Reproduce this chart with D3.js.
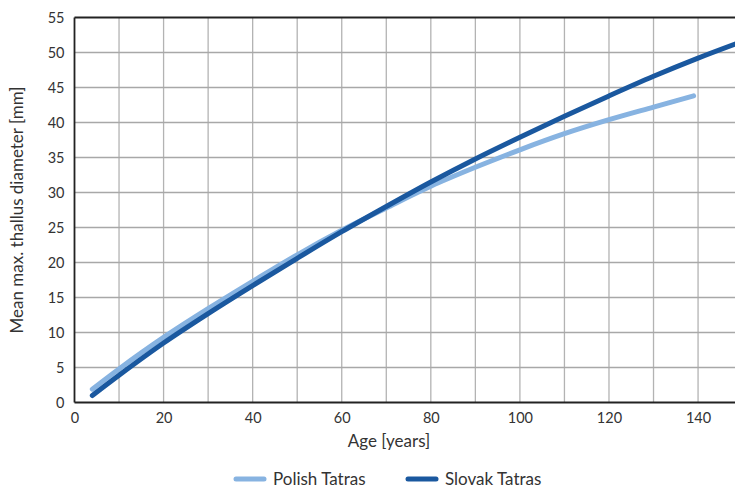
<!DOCTYPE html>
<html><head><meta charset="utf-8">
<script src="https://cdn.jsdelivr.net/npm/d3@7"></script>
<style>body{margin:0;background:#fff}svg{display:block}text{font-family:Lato,"Open Sans",sans-serif;fill:#333}</style>
</head><body><svg id="c" width="735" height="488"></svg>
<script>
const polishAges = [4, 10, 20, 30, 40, 50, 60, 70, 80, 90, 100, 110, 120, 130, 139];
const polishValues = [1.9, 4.8, 9.3, 13.4, 17.3, 21.1, 24.6, 27.8, 30.9, 33.6, 36.1, 38.4, 40.4, 42.2, 43.8];
const slovakAges = [4, 10, 20, 30, 40, 50, 60, 70, 80, 90, 100, 110, 120, 130, 140, 150];
const slovakValues = [1.0, 3.9, 8.5, 12.7, 16.7, 20.6, 24.4, 28.0, 31.5, 34.8, 37.9, 40.9, 43.8, 46.6, 49.2, 51.6];
const xTicks = [0, 20, 40, 60, 80, 100, 120, 140];
const yTicks = [0, 5, 10, 15, 20, 25, 30, 35, 40, 45, 50, 55];
const seriesNames = ["Polish Tatras", "Slovak Tatras"];
const colors = ["#87b3e1", "#1a589f"];

const svg = d3.select("#c");
const L = 74.5, T = 17.5, B = 402.5, W = 735;
const x = d3.scaleLinear().domain([0, 150]).range([L, L + 150 * 4.454]);
const y = d3.scaleLinear().domain([0, 55]).range([B, T]);

svg.append("clipPath").attr("id", "clip").append("rect")
  .attr("x", L).attr("y", 0).attr("width", W - L).attr("height", B + 5);

const grid = svg.append("g");
d3.range(10, 151, 10).forEach(v => {
  grid.append("line").attr("x1", x(v)).attr("x2", x(v)).attr("y1", T).attr("y2", B)
    .attr("stroke", "#b3b3b3").attr("stroke-width", 1.3);
});
yTicks.slice(1, -1).forEach(v => {
  grid.append("line").attr("x1", L).attr("x2", W).attr("y1", y(v)).attr("y2", y(v))
    .attr("stroke", "#a8a8a8").attr("stroke-width", 1.3);
});

svg.append("line").attr("x1", L).attr("x2", W).attr("y1", T).attr("y2", T).attr("stroke", "#222").attr("stroke-width", 1.8);
svg.append("line").attr("x1", L).attr("x2", W).attr("y1", B).attr("y2", B).attr("stroke", "#222").attr("stroke-width", 1.8);
svg.append("line").attr("x1", L).attr("x2", L).attr("y1", T).attr("y2", B).attr("stroke", "#222").attr("stroke-width", 1.8);

const xAxis = svg.append("g").attr("transform", `translate(0,${B})`)
  .call(d3.axisBottom(x).tickValues(xTicks).tickSize(0).tickPadding(10));
xAxis.select(".domain").remove();
xAxis.selectAll("text").style("font-size", "14.5px").attr("fill", "#333");
const yAxis = svg.append("g").attr("transform", `translate(${L},0)`)
  .call(d3.axisLeft(y).tickValues(yTicks).tickSize(0).tickPadding(10));
yAxis.select(".domain").remove();
yAxis.selectAll("text").style("font-size", "14.5px").attr("fill", "#333");

const line = d3.line().x(d => x(d[0])).y(d => y(d[1])).curve(d3.curveCatmullRom);
const g = svg.append("g").attr("clip-path", "url(#clip)");
const data = [
  d3.zip(polishAges, polishValues),
  d3.zip(slovakAges, slovakValues)
];
data.forEach((d, i) => {
  g.append("path").attr("d", line(d)).attr("fill", "none").attr("stroke", colors[i])
    .attr("stroke-width", 5).attr("stroke-linecap", "round").attr("stroke-linejoin", "round");
});

svg.append("text").attr("x", 389).attr("y", 447).attr("text-anchor", "middle")
  .style("font-size", "17px").text("Age [years]");
svg.append("text").attr("transform", "translate(23,210) rotate(-90)").attr("text-anchor", "middle")
  .style("font-size", "17px").text("Mean max. thallus diameter [mm]");

const legX = [236, 408];
seriesNames.forEach((n, i) => {
  svg.append("line").attr("x1", legX[i]).attr("x2", legX[i] + 28).attr("y1", 479).attr("y2", 479)
    .attr("stroke", colors[i]).attr("stroke-width", 5).attr("stroke-linecap", "round");
  svg.append("text").attr("x", legX[i] + 37).attr("y", 485).style("font-size", "17px").text(n);
});
</script></body></html>
